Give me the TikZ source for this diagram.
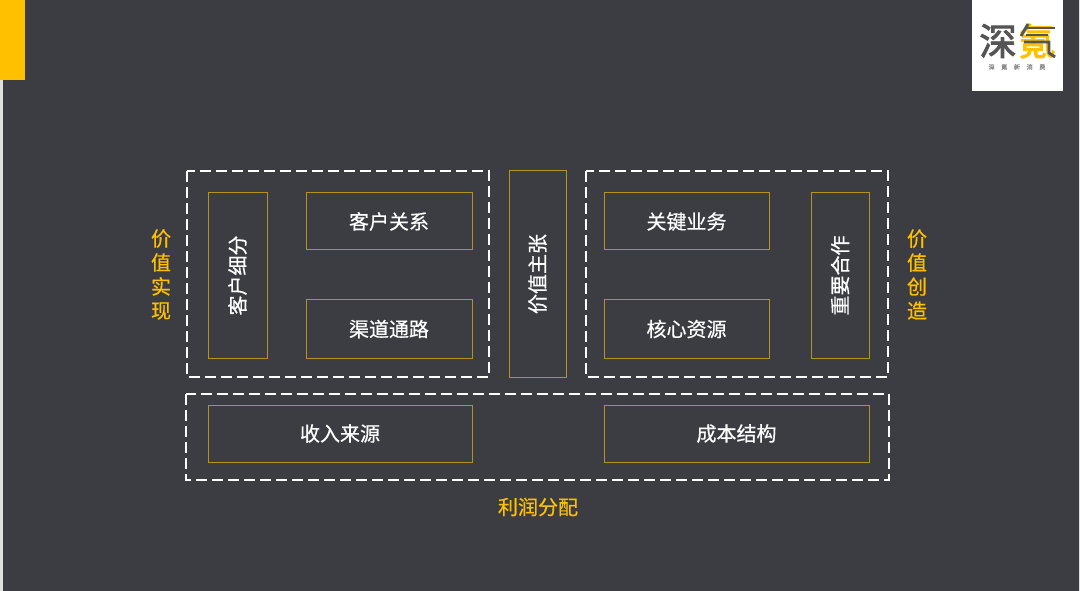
\documentclass[tikz,border=0pt]{standalone}
\usepackage{xcolor}
\usepackage{fontspec}
\setmainfont{Noto Sans CJK SC}[FakeBold=0.5]
\newfontfamily\logofont{Noto Sans CJK SC}[FakeBold=2.5]
\usepackage{tikz}

\definecolor{slatebg}{HTML}{3C3D42}
\definecolor{amber}{HTML}{FFC000}
\definecolor{boxline}{HTML}{B8921E}
\definecolor{logogrey}{HTML}{555555}

\tikzset{
  block/.style 2 args={draw=boxline, line width=0.75pt, minimum width=#1*0.75pt, minimum height=#2*0.75pt, inner sep=0pt, text=white, font=\fontsize{15}{15}\selectfont},
  group/.style={draw=white, line width=2.1pt, dash pattern=on 8pt off 4pt},
  tag/.style={text=amber, font=\fontsize{15}{18}\selectfont, align=center, inner sep=0pt},
  logoglyph/.style={font=\logofont\fontsize{28}{28}\selectfont, inner sep=0pt},
  logostroke/.style={logogrey, line width=2.2pt}
}

\begin{document}
\begin{tikzpicture}[x=0.75pt, y=-0.75pt]
\useasboundingbox (0,0) rectangle (1080,591);
\fill[slatebg] (0,0) rectangle (1080,591);
\fill[black!12] (0,80) rectangle (3,591);
\fill[black!12] (1079,0) rectangle (1080,591);
\fill[amber] (0,0) rectangle (25,80);

% logo
\fill[white] (972,0) rectangle (1063,91);
\node[logoglyph, text=logogrey] (logoa) at (998,41) {深};
\node[logoglyph, text=amber] (logob) at (1037,41) {氪};
\node[text=logogrey!70, font=\fontsize{4.5}{5}\selectfont, inner sep=0pt] (logoc) at (1017,67) {深\hspace{5pt}氪\hspace{5pt}新\hspace{5pt}消\hspace{5pt}费};
\draw[logostroke] (1028,24) -- (1021,36);
\draw[logostroke] (1026,28) -- (1055,28);
\draw[logostroke] (1026,35) -- (1048,35);
\draw[logostroke] (1024,42) -- (1049,42) -- (1049,53) -- (1055,57);

% left group
\draw[group] (187,171) rectangle (489,377);
\node[block={59}{165}] (segments) at (237.5,275.5) {\rotatebox{90}{客户细分}};
\node[block={166}{57}] (relations) at (389,221.5) {客户关系};
\node[block={166}{58}] (channels) at (389,329) {渠道通路};

% middle
\node[block={57}{206}] (proposition) at (537.5,274) {\rotatebox{90}{价值主张}};

% right group
\draw[group] (586,171) rectangle (888,377);
\node[block={165}{57}] (activities) at (686.5,221.5) {关键业务};
\node[block={165}{58}] (resources) at (686.5,329) {核心资源};
\node[block={58}{165}] (partners) at (840,275.5) {\rotatebox{90}{重要合作}};

% bottom group
\draw[group] (186,394) rectangle (889,480);
\node[block={264}{57}] (revenue) at (340,433.5) {收入来源};
\node[block={265}{57}] (cost) at (736.5,433.5) {成本结构};

\node[tag] (realize) at (161,274.5) {价\\值\\实\\现};
\node[tag] (create) at (917,274.5) {价\\值\\创\\造};
\node[tag] (profit) at (538,507) {利润分配};
\end{tikzpicture}
\end{document}
